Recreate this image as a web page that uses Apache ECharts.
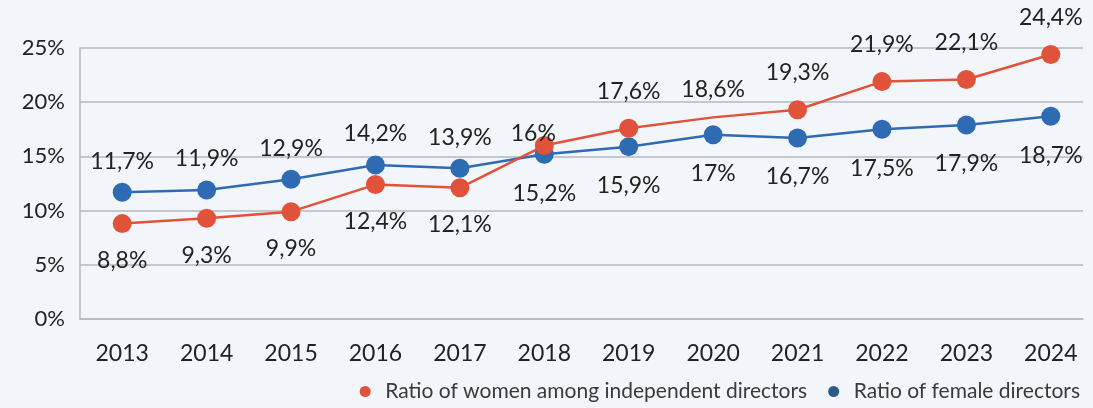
<!DOCTYPE html>
<html>
<head>
<meta charset="utf-8">
<style>
  html, body { margin: 0; padding: 0; background: #f2f5f9; }
  #chart { width: 1093px; height: 408px; }
</style>
<script src="https://cdn.jsdelivr.net/npm/echarts@6/dist/echarts.min.js"></script>
</head>
<body>
<div id="chart"></div>
<script>
// 数据
const years = ["2013", "2014", "2015", "2016", "2017", "2018", "2019", "2020", "2021", "2022", "2023", "2024"];
const independentRatio = [8.8, 9.3, 9.9, 12.4, 12.1, 16, 17.6, 18.6, 19.3, 21.9, 22.1, 24.4];
const femaleRatio = [11.7, 11.9, 12.9, 14.2, 13.9, 15.2, 15.9, 17, 16.7, 17.5, 17.9, 18.7];
const seriesNames = ["Ratio of women among independent directors", "Ratio of female directors"];

const RED = "#e0533a";
const BLUE = "#2f6bb3";
const FONT = "Lato";

const fmt = (v) => String(v).replace(".", ",") + "%";

// 2018 年以前红线标签在下方，之后在上方（蓝线相反）
const redData = independentRatio.map((v, i) => {
  const item = { value: v, label: { position: i < 5 ? "bottom" : "top", distance: 16 } };
  if (i === 5) item.label = { position: "top", offset: [-11, 21] };
  if (i === 7) item.symbolSize = 0.1;
  return item;
});
const blueData = femaleRatio.map((v, i) => ({
  value: v,
  label: { position: i < 5 ? "top" : "bottom", distance: i < 5 ? 10 : 18 },
}));

const labelStyle = {
  show: true,
  distance: 12,
  fontFamily: FONT,
  fontSize: 23,
  color: "#222",
  formatter: (p) => fmt(p.value),
};

const option = {
  backgroundColor: "#f2f5f9",
  animation: false,
  legend: {
    right: 8,
    bottom: 1,
    itemWidth: 30,
    itemHeight: 11,
    itemGap: 21,
    icon: "circle",
    textStyle: { fontFamily: FONT, fontSize: 21, color: "#3a3a3a" },
    data: [
      { name: seriesNames[0], itemStyle: { color: RED } },
      { name: seriesNames[1], itemStyle: { color: "#2d5b87" } },
    ],
  },
  grid: [
    { left: 80, right: 10, top: 48, bottom: 89 },
    { left: 80, right: -3, top: 48, bottom: 89 },
  ],
  xAxis: [
    {
      gridIndex: 0,
      type: "value",
      min: 0,
      max: 1,
      axisLine: { show: true, lineStyle: { color: "#b5b8bc", width: 1.5 } },
      axisTick: { show: false },
      axisLabel: { show: false },
      splitLine: { show: false },
    },
    {
      gridIndex: 1,
      type: "category",
      data: years,
      axisLine: { show: false },
      axisTick: { show: false },
      axisLabel: { fontFamily: FONT, fontSize: 23, color: "#222", margin: 23 },
    },
  ],
  yAxis: [
    {
      gridIndex: 0,
      type: "value",
      min: 0,
      max: 25,
      interval: 5,
      axisLine: { show: true, lineStyle: { color: "#b5b8bc", width: 1.5 } },
      axisTick: { show: false },
      axisLabel: {
        fontFamily: FONT,
        fontSize: 22,
        color: "#222",
        margin: 15,
        formatter: (v) => v + "%",
      },
      splitLine: { lineStyle: { color: "#b5b8bc", width: 1.5 } },
    },
    {
      gridIndex: 1,
      type: "value",
      min: 0,
      max: 25,
      show: false,
    },
  ],
  series: [
    {
      name: seriesNames[1],
      type: "line",
      xAxisIndex: 1,
      yAxisIndex: 1,
      data: blueData,
      symbol: "circle",
      symbolSize: 19,
      color: BLUE,
      lineStyle: { width: 2.5, color: BLUE },
      label: labelStyle,
    },
    {
      name: seriesNames[0],
      type: "line",
      xAxisIndex: 1,
      yAxisIndex: 1,
      data: redData,
      symbol: "circle",
      symbolSize: 19,
      color: RED,
      lineStyle: { width: 2.5, color: RED },
      label: labelStyle,
    },
  ],
};

const chart = echarts.init(document.getElementById("chart"));
chart.setOption(option);
window.addEventListener("resize", () => chart.resize());
</script>
</body>
</html>
